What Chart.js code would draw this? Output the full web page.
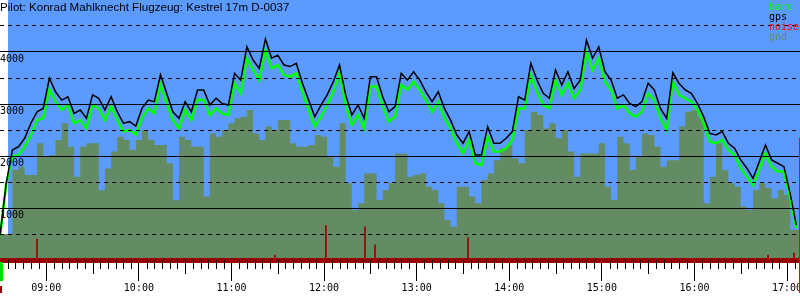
<!DOCTYPE html>
<html>
<head>
<meta charset="utf-8">
<script src="https://cdn.jsdelivr.net/npm/chart.js@4.4.1/dist/chart.umd.min.js"></script>
<style>
  body { margin: 0; background: #fff; }
  #wrap { width: 800px; height: 300px; }
</style>
</head>
<body>
<div id="wrap"><canvas id="barogram"></canvas></div>
<script>
// time axis is minutes since midnight, one sample every 4 minutes from 08:30
const START_MIN = 510;
const STEP_MIN = 4;
const AXIS_END = 1028.4;
const SKY_START = 515.2;
const LANDING_MIN = 1028;
const LANDING_TOP = 2350;

const title = 'Pilot: Konrad Mahlknecht Flugzeug: Kestrel 17m D-0037';
const tickHours = [9, 10, 11, 12, 13, 14, 15, 16, 17];
const legendItems = [['baro', '#00ff00'], ['gps', '#000000'], ['noise', '#ff0000'], ['gnd', '#648c64']];

const gps = [
  470, 1475, 2115, 2180, 2340, 2630, 2850, 2915, 3495, 3235,
  3075, 3140, 2820, 2885, 2725, 3175, 3110, 2885, 3140, 2850,
  2630, 2660, 2575, 2915, 3075, 3045, 3560, 3205, 2850, 2725,
  3045, 2850, 3270, 3270, 2980, 3110, 3010, 2980, 3590, 3460,
  4100, 3845, 3685, 4250, 3880, 3940, 3750, 3720, 3780, 3400,
  3075, 2755, 2980, 3175, 3430, 3750, 3175, 2790, 2980, 2725,
  3525, 3525, 3140, 2850, 2950, 3590, 3460, 3620, 3460, 3235,
  3045, 3235, 2915, 2690, 2405, 2245, 2470, 2020, 2020, 2565,
  2245, 2245, 2340, 2470, 3140, 3075, 3780, 3460, 3205, 3110,
  3655, 3365, 3620, 3300, 3460, 4230, 3880, 4100, 3620, 3460,
  3110, 3175, 3010, 2950, 3045, 3400, 3270, 2915, 2725, 3600,
  3400, 3270, 3205, 3010, 2755, 2435, 2405, 2470, 2245, 2150,
  1925, 1765, 1570, 1890, 2210, 1925, 1860, 1795, 1280, 675
];

const baro = [
  450, 1450, 1990, 2020, 2180, 2400, 2690, 2725, 3280, 3045,
  2885, 2980, 2630, 2690, 2530, 2980, 2915, 2690, 2950, 2690,
  2470, 2500, 2415, 2725, 2915, 2820, 3365, 3010, 2690, 2530,
  2885, 2690, 3075, 3075, 2790, 2915, 2820, 2790, 3400, 3205,
  3880, 3655, 3460, 4030, 3685, 3750, 3560, 3525, 3590, 3235,
  2885, 2565, 2755, 2980, 3235, 3590, 2980, 2595, 2790, 2530,
  3335, 3335, 2950, 2660, 2755, 3365, 3270, 3430, 3270, 3075,
  2850, 3045, 2725, 2530, 2245, 2050, 2310, 1860, 1825, 2370,
  2085, 2085, 2150, 2310, 2915, 2915, 3560, 3235, 2980, 2915,
  3460, 3175, 3400, 3110, 3270, 4005, 3655, 3880, 3430, 3270,
  2915, 2980, 2820, 2755, 2850, 3205, 3075, 2725, 2500, 3430,
  3175, 3110, 3045, 2885, 2630, 2275, 2245, 2310, 2115, 2020,
  1765, 1600, 1440, 1730, 2050, 1795, 1700, 1700, 1185, 610
];

const gnd = [
  500, 500, 1730, 1795, 1635, 1635, 2245, 1990, 2020, 2310,
  2630, 2180, 1600, 2180, 2245, 2245, 1345, 1760, 2085, 2370,
  2310, 2115, 2310, 2500, 2310, 2210, 2210, 1860, 1150, 2370,
  2310, 2180, 2180, 1220, 2435, 2370, 2500, 2630, 2725, 2755,
  2885, 2435, 2310, 2565, 2500, 2690, 2690, 2245, 2180, 2180,
  2210, 2405, 2370, 1990, 1795, 2630, 1475, 960, 1090, 1665,
  1665, 1155, 1345, 1475, 2050, 2050, 1600, 1635, 1665, 1410,
  1345, 1090, 770, 640, 1410, 1410, 1220, 1090, 1540, 1665,
  1920, 2150, 2210, 1955, 1860, 2500, 2850, 2790, 2530, 2630,
  2340, 2500, 2085, 1600, 2050, 2050, 2050, 2245, 1410, 1155,
  2370, 2245, 1730, 1990, 2435, 2405, 2180, 1795, 1920, 1920,
  2565, 2850, 2885, 2755, 1090, 1600, 2245, 1730, 1475, 1410,
  1030, 960, 1345, 1475, 1380, 1185, 1345, 1250, 575, 575, 560
];

const noiseTimes = [534, 688.2, 721.2, 746.5, 753, 813.3, 1007.7, 1024.5];
const noise = [400, 95, 660, 640, 290, 430, 95, 135];

const toPoints = arr => arr.map((v, i) => ({ x: START_MIN + i * STEP_MIN, y: v }));
const hhmm = v => String(Math.floor(v / 60)).padStart(2, '0') + ':' + String(Math.round(v % 60)).padStart(2, '0');

const MONO = 'DejaVu Sans Mono';

// blue sky behind the plot, white strip before the trace starts
const sky = {
  id: 'sky',
  beforeDraw(chart) {
    const { ctx, chartArea: a, scales: { x } } = chart;
    ctx.save();
    ctx.fillStyle = '#fff';
    ctx.fillRect(0, 0, chart.width, chart.height);
    const x0 = x.getPixelForValue(SKY_START);
    ctx.fillStyle = '#5b9bff';
    ctx.fillRect(x0, a.top, a.right - x0, a.bottom - a.top);
    ctx.restore();
  }
};

const overlay = {
  id: 'overlay',
  afterDraw(chart) {
    const { ctx, chartArea: a, scales: { x, y } } = chart;
    ctx.save();
    // 5 and 30 minute ticks under the axis
    ctx.strokeStyle = '#000';
    ctx.lineWidth = 1;
    for (let t = 515; t <= AXIS_END; t += 5) {
      if (t % 60 === 0) continue;
      const px = Math.round(x.getPixelForValue(t)) + 0.5;
      ctx.beginPath();
      ctx.moveTo(px, a.bottom);
      ctx.lineTo(px, a.bottom + (t % 30 === 0 ? 14 : 9));
      ctx.stroke();
    }
    // takeoff / landing markers
    const xs = x.getPixelForValue(START_MIN);
    ctx.fillStyle = '#00dd00';
    ctx.fillRect(xs, a.bottom + 2, 3, 19);
    ctx.fillStyle = '#990000';
    ctx.fillRect(xs, a.bottom + 26, 2, 7);
    const xl = Math.round(x.getPixelForValue(LANDING_MIN)) + 0.5;
    ctx.strokeStyle = '#ff0000';
    ctx.beginPath();
    ctx.moveTo(xl, y.getPixelForValue(LANDING_TOP));
    ctx.lineTo(xl, a.bottom + 33);
    ctx.stroke();
    // title
    ctx.fillStyle = '#000';
    ctx.font = '11.6px "Liberation Sans"';
    ctx.textBaseline = 'alphabetic';
    ctx.fillText(title, 0, 11, 291);
    // legend
    ctx.font = '10px "' + MONO + '"';
    legendItems.forEach(([txt, col], i) => {
      ctx.fillStyle = col;
      ctx.fillText(txt, 769, 10 + i * 10);
    });
    ctx.restore();
  }
};

new Chart(document.getElementById('barogram'), {
  type: 'line',
  data: {
    datasets: [
      { label: 'gps', data: toPoints(gps), borderColor: '#000', borderWidth: 1.5, pointRadius: 0, tension: 0, fill: false },
      { label: 'baro', data: toPoints(baro), borderColor: '#00ff00', borderWidth: 2.5, pointRadius: 0, tension: 0, fill: false },
      {
        type: 'bar', label: 'noise',
        data: noiseTimes.map((t, i) => ({ x: t, y: noise[i] })),
        backgroundColor: '#990000', barThickness: 1, grouped: false
      },
      {
        label: 'gnd', data: toPoints(gnd), stepped: true, fill: 'origin',
        backgroundColor: '#648c64', borderWidth: 0, pointRadius: 0
      }
    ]
  },
  options: {
    responsive: true,
    maintainAspectRatio: false,
    animation: false,
    layout: { padding: 0 },
    plugins: { legend: { display: false }, tooltip: { enabled: false } },
    scales: {
      x: {
        type: 'linear', min: START_MIN, max: AXIS_END, offset: false,
        afterBuildTicks: axis => { axis.ticks = tickHours.map(h => ({ value: h * 60 })); },
        afterFit: axis => { axis.height = 40; axis.paddingLeft = 0; axis.paddingRight = 0; },
        grid: { drawOnChartArea: false, tickLength: 21, tickColor: '#000', offset: false, z: 1 },
        border: { color: '#990000', width: 5, z: 1 },
        ticks: {
          color: '#000', font: { family: MONO, size: 10 }, padding: 1, z: 2,
          maxRotation: 0, autoSkip: false, callback: v => hhmm(v)
        }
      },
      y: {
        min: 0, max: 5000,
        afterFit: axis => { axis.width = 0; axis.paddingTop = 0; axis.paddingBottom = 0; },
        ticks: {
          stepSize: 500, mirror: true, padding: 0, labelOffset: 7, color: '#000', z: 2,
          font: { family: MONO, size: 10 },
          callback: v => (v % 1000 === 0 && v > 0 && v < 5000) ? String(v) : ''
        },
        grid: {
          drawTicks: false, lineWidth: 1, z: 1,
          color: c => (c.tick.value > 0 && c.tick.value < 5000) ? '#000' : 'rgba(0,0,0,0)'
        },
        border: { display: false, z: 1, dash: c => (c.tick.value % 1000 ? [4, 4] : []) }
      }
    }
  },
  plugins: [sky, overlay]
});
</script>
</body>
</html>
